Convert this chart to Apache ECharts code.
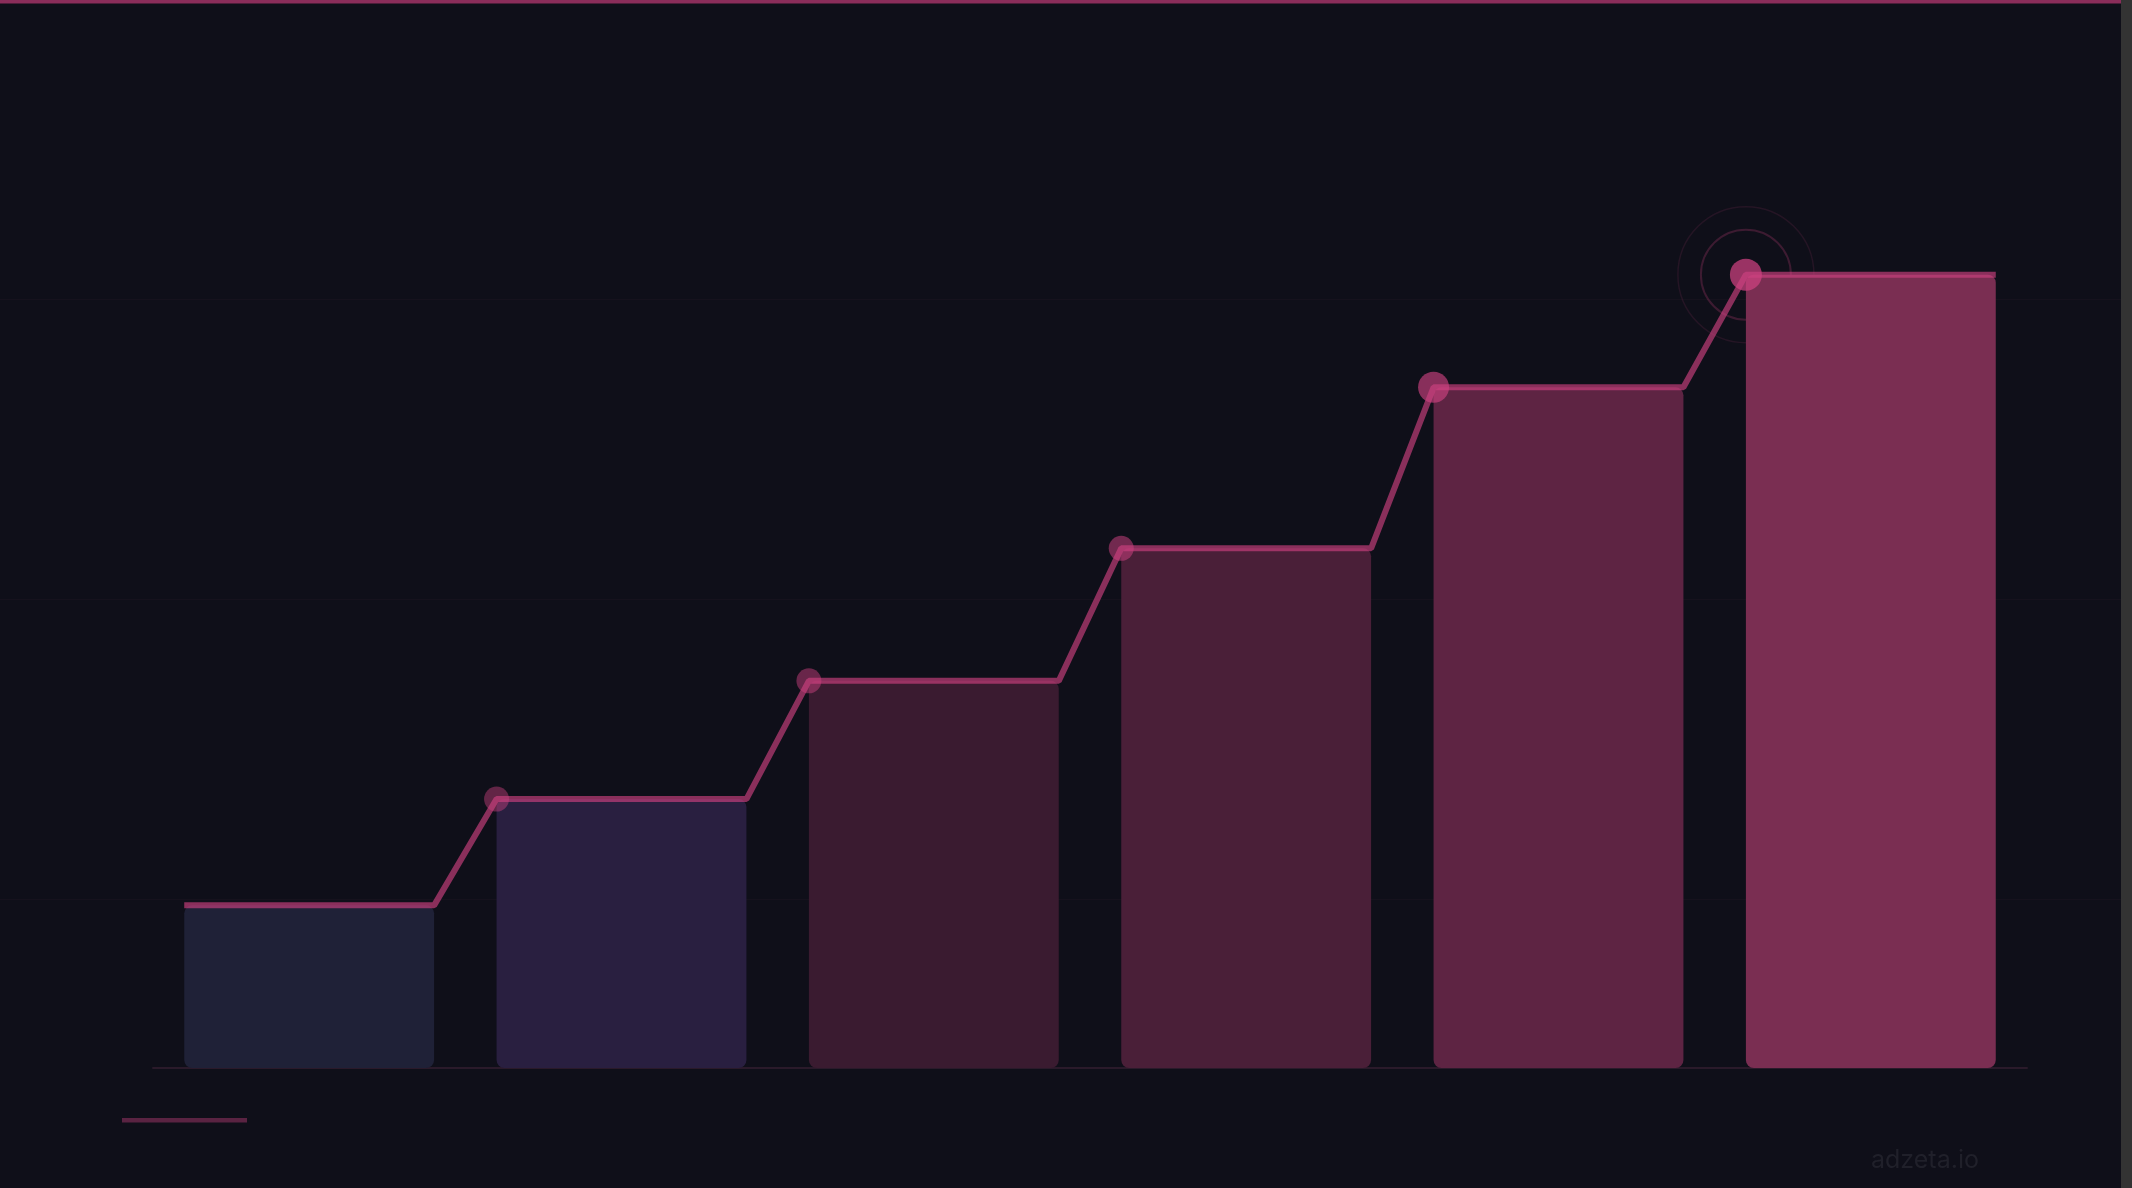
<!DOCTYPE html>
<html>
<head>
<meta charset="utf-8">
<script src="https://cdn.jsdelivr.net/npm/echarts@6/dist/echarts.min.js"></script>
<style>
  html, body { margin: 0; padding: 0; background: #0f0f19; }
  #chart { width: 2132px; height: 1188px; }
</style>
</head>
<body>
<div id="chart"></div>
<script>
// steps (no labels shown in the picture)
const steps = ['1', '2', '3', '4', '5', '6'];
const values = [20.5, 33.9, 48.8, 65.5, 85.8, 100];
const barColors = ['#1f2137', '#291f40', '#3a1b30', '#4a1f38', '#5e2443', '#7a2e52'];
const dotSizes = [0, 25, 25, 25, 31, 32];
const dotAlpha = [0, 0.55, 0.6, 0.65, 0.8, 0.92];

const gap = 0.1; // half of the 20% category gap

// line runs along each bar top, then climbs to the next bar's top-left corner
var linePts = [];
values.forEach(function (v, i) {
  linePts.push([i + gap, v]);
  linePts.push([i + 1 - gap, v]);
});

var dots = [];
values.forEach(function (v, i) {
  if (i == 0) return;
  dots.push({
    value: [i + gap, v],
    symbolSize: dotSizes[i],
    itemStyle: { color: 'rgba(205,65,128,' + dotAlpha[i] + ')' }
  });
});
var last = values.length - 1;
var peak = [last + gap, values[last]];

var chart = echarts.init(document.getElementById('chart'));

chart.setOption({
  backgroundColor: '#0f0f19',
  animation: false,
  grid: { left: 153, right: 105, top: 116, bottom: 120 },
  xAxis: [{
    type: 'category',
    data: steps,
    axisLine: { show: true, lineStyle: { color: '#2a1a2a', width: 2 } },
    axisTick: { show: false },
    axisLabel: { show: false },
    splitLine: { show: false }
  }, {
    type: 'value',
    min: 0,
    max: steps.length,
    show: false
  }],
  yAxis: {
    type: 'value',
    min: 0,
    max: 120,
    show: false,
    splitLine: { show: false }
  },
  series: [{
    type: 'bar',
    data: values.map(function (v, i) {
      return { value: v, itemStyle: { color: barColors[i] } };
    }),
    barCategoryGap: '20%',
    itemStyle: { borderRadius: 8 },
    z: 2
  }, {
    type: 'line',
    xAxisIndex: 1,
    data: linePts,
    showSymbol: false,
    lineStyle: { color: 'rgba(205,65,128,0.65)', width: 6 },
    z: 3
  }, {
    type: 'scatter',
    xAxisIndex: 1,
    data: dots,
    z: 4
  }, {
    type: 'scatter',
    xAxisIndex: 1,
    data: [peak],
    symbolSize: 90,
    itemStyle: { color: 'transparent', borderColor: 'rgba(205,65,128,0.3)', borderWidth: 2 },
    z: 1
  }, {
    type: 'scatter',
    xAxisIndex: 1,
    data: [peak],
    symbolSize: 136,
    itemStyle: { color: 'transparent', borderColor: 'rgba(205,65,128,0.15)', borderWidth: 1.5 },
    z: 1
  }],
  graphic: [
    { type: 'rect', z: -10, shape: { x: 0, y: 299, width: 2121, height: 1 }, style: { fill: '#16121d' } },
    { type: 'rect', z: -10, shape: { x: 0, y: 599, width: 2121, height: 1 }, style: { fill: '#16121d' } },
    { type: 'rect', z: -10, shape: { x: 0, y: 899, width: 2121, height: 1 }, style: { fill: '#16121d' } },
    { type: 'rect', shape: { x: 0, y: 0, width: 2121, height: 3.5 }, style: { fill: '#8a2d5a' } },
    { type: 'rect', shape: { x: 2121, y: 0, width: 11, height: 1188 }, style: { fill: '#333333' } },
    { type: 'rect', shape: { x: 122, y: 1118, width: 125, height: 4.5 }, style: { fill: '#5a2342' } },
    {
      type: 'text',
      left: 1871,
      top: 1148,
      style: { text: 'adzeta.io', fill: '#20202a', font: '25px Inter', letterSpacing: 1.5 }
    }
  ]
});
</script>
</body>
</html>
